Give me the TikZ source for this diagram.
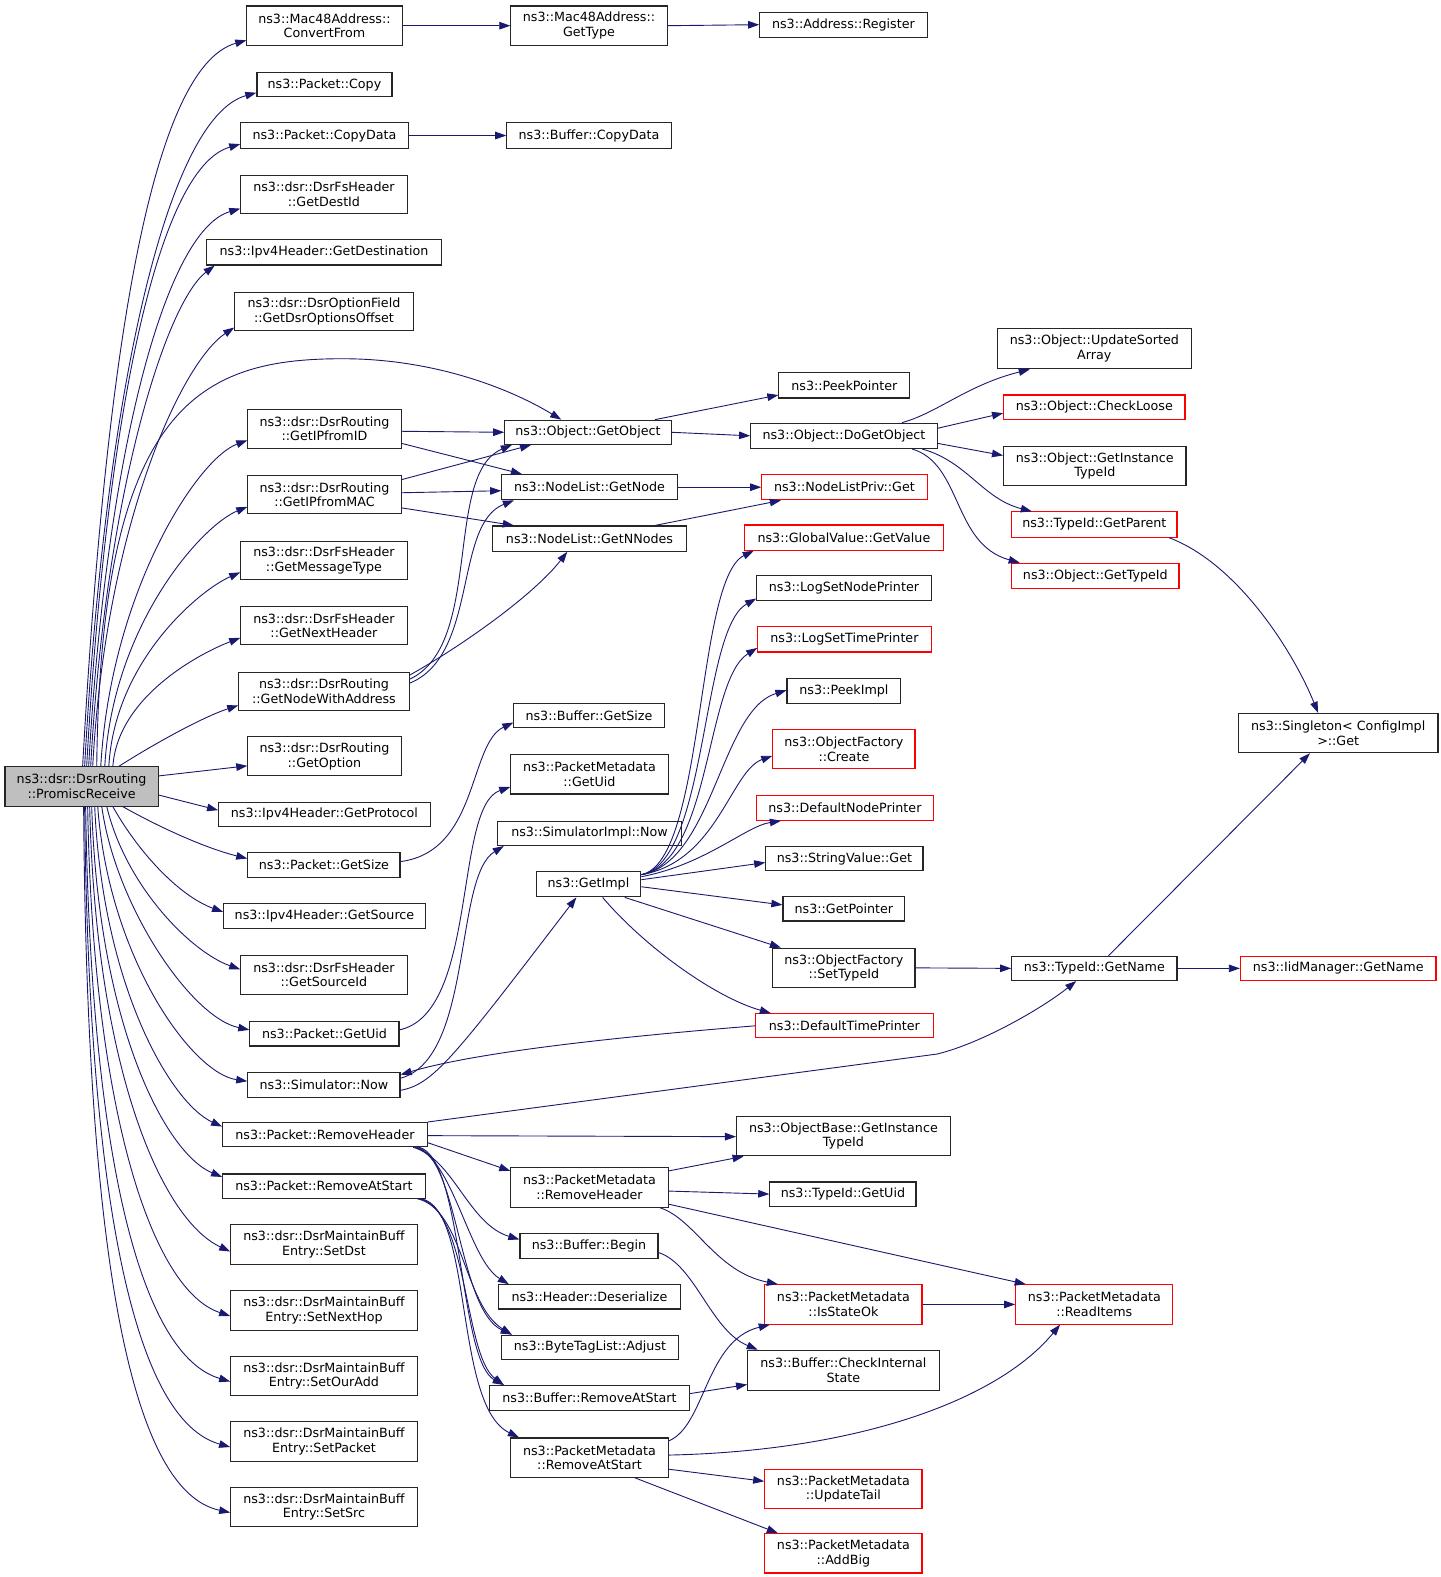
\documentclass[tikz,border=0pt]{standalone}
\usepackage{fontspec}
\setmainfont{DejaVu Sans}
\usetikzlibrary{arrows.meta}
\definecolor{eb}{HTML}{191970}
\newcommand\dxbox[7][]{%
  \pgfmathsetmacro\dxw{#4-#2}\pgfmathsetmacro\dxh{#5-#3}%
  \pgfmathsetmacro\dxx{(#2+#4)/2}\pgfmathsetmacro\dxy{(#3+#5)/2}%
  \node[box,#1,minimum width=\dxw pt,minimum height=\dxh pt] (#6) at (\dxx,\dxy) {#7};}
\begin{document}
\begin{tikzpicture}[x=1pt,y=-1pt,
  box/.style={draw=black!85,line width=1.1pt,fill=white,inner xsep=1pt,inner ysep=1pt,align=center,font=\fontsize{12.6}{14.5}\selectfont},
  rbox/.style={draw=red},
  mbox/.style={fill=black!25},
  edge/.style={draw=eb,line width=0.9pt,-{Triangle[length=11pt,width=7.5pt]}}]
\useasboundingbox (0,0) rectangle (1430,1565);
% column 1
\dxbox[mbox]{5}{761}{157}{800}{main}{ns3::dsr::DsrRouting\\::PromiscReceive}
% column 2
\dxbox{245}{6}{399}{45}{CF}{ns3::Mac48Address::\\ConvertFrom}
\dxbox{255}{72}{389}{96}{PCopy}{ns3::Packet::Copy}
\dxbox{239}{122}{405}{147}{PCD}{ns3::Packet::CopyData}
\dxbox{239}{174}{404}{212}{GDI}{ns3::dsr::DsrFsHeader\\::GetDestId}
\dxbox{205}{238}{438}{263}{GDest}{ns3::Ipv4Header::GetDestination}
\dxbox{233}{290}{410}{328}{GDOO}{ns3::dsr::DsrOptionField\\::GetDsrOptionsOffset}
\dxbox{246}{406}{398}{445}{GIPID}{ns3::dsr::DsrRouting\\::GetIPfromID}
\dxbox{246}{472}{398}{510}{GIPMAC}{ns3::dsr::DsrRouting\\::GetIPfromMAC}
\dxbox{239}{537}{404}{575}{GMT}{ns3::dsr::DsrFsHeader\\::GetMessageType}
\dxbox{239}{602}{404}{640}{GNH}{ns3::dsr::DsrFsHeader\\::GetNextHeader}
\dxbox{237}{667}{406}{705}{GNWA}{ns3::dsr::DsrRouting\\::GetNodeWithAddress}
\dxbox{246}{731}{398}{770}{GOpt}{ns3::dsr::DsrRouting\\::GetOption}
\dxbox{217}{796}{427}{820}{GProt}{ns3::Ipv4Header::GetProtocol}
\dxbox{246}{846}{397}{871}{PGS}{ns3::Packet::GetSize}
\dxbox{222}{897}{422}{921}{GSrc}{ns3::Ipv4Header::GetSource}
\dxbox{239}{948}{404}{987}{GSId}{ns3::dsr::DsrFsHeader\\::GetSourceId}
\dxbox{248}{1014}{396}{1038}{PGU}{ns3::Packet::GetUid}
\dxbox{246}{1064}{397}{1089}{SNow}{ns3::Simulator::Now}
\dxbox{221}{1114}{424}{1138}{PRH}{ns3::Packet::RemoveHeader}
\dxbox{221}{1165}{422}{1189}{PRAS}{ns3::Packet::RemoveAtStart}
\dxbox{229}{1215}{414}{1255}{SDst}{ns3::dsr::DsrMaintainBuff\\Entry::SetDst}
\dxbox{229}{1281}{414}{1320}{SNH}{ns3::dsr::DsrMaintainBuff\\Entry::SetNextHop}
\dxbox{229}{1346}{414}{1385}{SOA}{ns3::dsr::DsrMaintainBuff\\Entry::SetOurAdd}
\dxbox{229}{1411}{414}{1450}{SPk}{ns3::dsr::DsrMaintainBuff\\Entry::SetPacket}
\dxbox{229}{1476}{414}{1515}{SSrc}{ns3::dsr::DsrMaintainBuff\\Entry::SetSrc}
% column 3
\dxbox{507}{6}{662}{45}{MGT}{ns3::Mac48Address::\\GetType}
\dxbox{503}{122}{666}{147}{BCD}{ns3::Buffer::CopyData}
\dxbox{501}{417}{666}{441}{GObj}{ns3::Object::GetObject}
\dxbox{498}{471}{672}{496}{GNode}{ns3::NodeList::GetNode}
\dxbox{489}{522}{681}{547}{GNN}{ns3::NodeList::GetNNodes}
\dxbox{510}{698}{659}{722}{BGS}{ns3::Buffer::GetSize}
\dxbox{507}{749}{663}{788}{PMGU}{ns3::PacketMetadata\\::GetUid}
\dxbox{494}{815}{676}{839}{SIN}{ns3::SimulatorImpl::Now}
\dxbox{532}{865}{636}{890}{GImpl}{ns3::GetImpl}
\dxbox{507}{1159}{663}{1198}{PMRH}{ns3::PacketMetadata\\::RemoveHeader}
\dxbox{516}{1224}{653}{1249}{BB}{ns3::Buffer::Begin}
\dxbox{495}{1275}{675}{1299}{HD}{ns3::Header::Deserialize}
\dxbox{498}{1325}{673}{1349}{BTA}{ns3::ByteTagList::Adjust}
\dxbox{486}{1375}{684}{1400}{BRAS}{ns3::Buffer::RemoveAtStart}
\dxbox{507}{1427}{663}{1466}{PMRAS}{ns3::PacketMetadata\\::RemoveAtStart}
% column 4
\dxbox{754}{12}{920}{37}{AR}{ns3::Address::Register}
\dxbox{773}{370}{903}{395}{PP}{ns3::PeekPointer}
\dxbox{745}{420}{930}{445}{DGO}{ns3::Object::DoGetObject}
\dxbox[rbox]{756}{471}{920}{496}{NLPG}{ns3::NodeListPriv::Get}
\dxbox[rbox]{739}{521}{936}{546}{GVGV}{ns3::GlobalValue::GetValue}
\dxbox{751}{571}{924}{596}{LSNP}{ns3::LogSetNodePrinter}
\dxbox[rbox]{752}{622}{924}{647}{LSTP}{ns3::LogSetTimePrinter}
\dxbox{781}{673}{894}{698}{PI}{ns3::PeekImpl}
\dxbox[rbox]{767}{724}{908}{763}{OFC}{ns3::ObjectFactory\\::Create}
\dxbox[rbox]{751}{789}{926}{814}{DNP}{ns3::DefaultNodePrinter}
\dxbox{760}{840}{916}{864}{SVG}{ns3::StringValue::Get}
\dxbox{777}{890}{898}{914}{GP}{ns3::GetPointer}
\dxbox{767}{941}{908}{980}{OFST}{ns3::ObjectFactory\\::SetTypeId}
\dxbox[rbox]{750}{1006}{926}{1030}{DTP}{ns3::DefaultTimePrinter}
\dxbox{731}{1108}{943}{1147}{OBGIT}{ns3::ObjectBase::GetInstance\\TypeId}
\dxbox{764}{1173}{909}{1197}{TGU}{ns3::TypeId::GetUid}
\dxbox[rbox]{759}{1275}{915}{1314}{ISO}{ns3::PacketMetadata\\::IsStateOk}
\dxbox{742}{1340}{932}{1380}{BCIS}{ns3::Buffer::CheckInternal\\State}
\dxbox[rbox]{759}{1458}{915}{1497}{PMUT}{ns3::PacketMetadata\\::UpdateTail}
\dxbox[rbox]{759}{1522}{915}{1561}{PMAB}{ns3::PacketMetadata\\::AddBig}
% column 5
\dxbox{990}{326}{1182}{366}{OUSA}{ns3::Object::UpdateSorted\\Array}
\dxbox[rbox]{996}{392}{1176}{416}{OCL}{ns3::Object::CheckLoose}
\dxbox{996}{443}{1177}{482}{OGIT}{ns3::Object::GetInstance\\TypeId}
\dxbox[rbox]{1004}{508}{1168}{533}{TGP}{ns3::TypeId::GetParent}
\dxbox[rbox]{1004}{559}{1170}{584}{OGT}{ns3::Object::GetTypeId}
\dxbox{1004}{949}{1168}{973}{TGN}{ns3::TypeId::GetName}
\dxbox[rbox]{1008}{1275}{1164}{1314}{PMRI}{ns3::PacketMetadata\\::ReadItems}
% column 6
\dxbox{1229}{708}{1427}{747}{SCG}{ns3::Singleton< ConfigImpl\\ >::Get}
\dxbox[rbox]{1231}{949}{1425}{973}{IMGN}{ns3::IidManager::GetName}
% edges from main, upward
\draw[edge] (main.north -| 82,0) .. controls (104,364) and (148,67) .. (CF.west |- 0,40);
\draw[edge] (main.north -| 84,0) .. controls (104,393) and (165,117) .. (PCopy.west |- 0,92);
\draw[edge] (main.north -| 86,0) .. controls (105,421) and (155,167) .. (PCD.west |- 0,143);
\draw[edge] (main.north -| 88,0) .. controls (105,456) and (163,229) .. (GDI.west |- 0,207);
\draw[edge] (main.north -| 90,0) .. controls (105,487) and (165,300) .. (GDest.south -| 213,0);
\draw[edge] (main.north -| 92,0) .. controls (105,521) and (180,360) .. (GDOO.west |- 0,325);
\draw[edge] (main.north -| 96,0) .. controls (100,400) and (200,356) .. (340,356) .. controls (430,356) and (505,385) .. (GObj.north -| 557,0);
\draw[edge] (main.north -| 100,0) .. controls (110,587) and (196,455) .. (GIPID.west |- 0,437);
\draw[edge] (main.north -| 104,0) .. controls (112,619) and (201,521) .. (GIPMAC.west |- 0,503);
\draw[edge] (main.north -| 108,0) .. controls (114,655) and (199,585) .. (GMT.west |- 0,568);
\draw[edge] (main.north -| 112,0) .. controls (117,691) and (199,648) .. (GNH.west |- 0,633);
\draw[edge] (main.north -| 118,0) .. controls (150,740) and (200,712) .. (GNWA.west |- 0,700);
\draw[edge] (main.east |- 0,770) -- (GOpt.west |- 0,760);
\draw[edge] (main.east |- 0,789) -- (GProt.west |- 0,804);
% edges from main, downward
\draw[edge] (main.south -| 122,0) .. controls (160,822) and (205,842) .. (PGS.west |- 0,852);
\draw[edge] (main.south -| 112,0) .. controls (140,850) and (180,890) .. (GSrc.west |- 0,905);
\draw[edge] (main.south -| 106,0) .. controls (125,880) and (190,945) .. (GSId.west |- 0,962);
\draw[edge] (main.south -| 101,0) .. controls (115,900) and (190,1010) .. (PGU.west |- 0,1022);
\draw[edge] (main.south -| 97,0) .. controls (108,950) and (190,1065) .. (SNow.west |- 0,1073);
\draw[edge] (main.south -| 94,0) .. controls (102,980) and (170,1095) .. (PRH.west |- 0,1118);
\draw[edge] (main.south -| 91,0) .. controls (98,1020) and (165,1145) .. (PRAS.west |- 0,1168);
\draw[edge] (main.south -| 89,0) .. controls (95,1060) and (160,1210) .. (SDst.west |- 0,1242);
\draw[edge] (main.south -| 87,0) .. controls (92,1100) and (150,1280) .. (SNH.west |- 0,1306);
\draw[edge] (main.south -| 85,0) .. controls (90,1150) and (140,1345) .. (SOA.west |- 0,1371);
\draw[edge] (main.south -| 84,0) .. controls (88,1200) and (135,1410) .. (SPk.west |- 0,1436);
\draw[edge] (main.south -| 83,0) .. controls (86,1250) and (130,1480) .. (SSrc.west |- 0,1501);
% column 2 -> 3
\draw[edge] (CF.east) -- (MGT.west);
\draw[edge] (MGT.east) -- (AR.west);
\draw[edge] (PCD.east) -- (BCD.west);
\draw[edge] (GIPID.east |- 0,428) -- (GObj.west |- 0,429);
\draw[edge] (GIPID.east |- 0,440) -- (GNode.north -| 518,0);
\draw[edge] (GIPMAC.east |- 0,476) -- (GObj.south -| 527,0);
\draw[edge] (GIPMAC.east |- 0,489) -- (GNode.west |- 0,487);
\draw[edge] (GIPMAC.east |- 0,504) -- (GNN.north -| 510,0);
\draw[edge] (GNWA.east |- 0,674) .. controls (480,640) and (440,470) .. (GObj.south -| 508,0);
\draw[edge] (GNWA.east |- 0,678) .. controls (475,650) and (450,520) .. (GNode.south -| 510,0);
\draw[edge] (GNWA.east |- 0,670) .. controls (460,640) and (530,590) .. (GNN.south -| 563,0);
\draw[edge] (PGS.east |- 0,855) .. controls (475,845) and (465,738) .. (BGS.west |- 0,717);
\draw[edge] (PGU.east |- 0,1022) .. controls (475,1005) and (450,800) .. (PMGU.west |- 0,781);
\draw[edge] (SNow.east |- 0,1070) .. controls (470,1050) and (450,870) .. (SIN.south -| 500,0);
\draw[edge] (SNow.east |- 0,1082) .. controls (430,1076) and (450,1050) .. (GImpl.south -| 572,0);
\draw[edge] (DTP.west) .. controls (600,1030) and (470,1045) .. ([yshift=-3pt]SNow.north east);
\draw[edge] (PRH.north east) -- (930,1046) .. controls (975,1035) and (1035,1000) .. (TGN.south -| 1068,0);
\draw[edge] (PRH.east |- 0,1127) -- (OBGIT.west |- 0,1128);
\draw[edge] (PRH.east |- 0,1134) -- (PMRH.west |- 0,1162);
\draw[edge] (PRH.south -| 410,0) .. controls (450,1150) and (465,1215) .. (BB.west |- 0,1230);
\draw[edge] (PRH.south -| 412,0) .. controls (450,1150) and (465,1250) .. (HD.north -| 505,0);
\draw[edge] (PRH.south -| 414,0) .. controls (455,1150) and (455,1300) .. (BTA.north -| 508,0);
\draw[edge] (PRH.south -| 416,0) .. controls (460,1150) and (455,1350) .. (BRAS.north -| 500,0);
\draw[edge] (PRAS.south -| 414,0) .. controls (460,1200) and (460,1295) .. (BTA.north -| 508,0);
\draw[edge] (PRAS.south -| 416,0) .. controls (465,1200) and (460,1345) .. (BRAS.north -| 500,0);
\draw[edge] (PRAS.south -| 418,0) .. controls (470,1200) and (450,1395) .. (PMRAS.north -| 515,0);
% column 3 -> 4
\draw[edge] (GObj.north -| 650,0) -- (PP.west |- 0,392);
\draw[edge] (GObj.east) -- (DGO.west);
\draw[edge] (GNode.east) -- (NLPG.west);
\draw[edge] (GNN.north -| 650,0) -- (NLPG.south -| 775,0);
\draw[edge] (GImpl.east |- 0,868) .. controls (700,855) and (690,575) .. (GVGV.south -| 748,0);
\draw[edge] (GImpl.east |- 0,868) .. controls (703,855) and (695,625) .. (LSNP.west |- 0,594);
\draw[edge] (GImpl.east |- 0,868) .. controls (706,855) and (700,675) .. (LSTP.west |- 0,643);
\draw[edge] (GImpl.east |- 0,868) .. controls (708,855) and (715,705) .. (PI.west |- 0,685);
\draw[edge] (GImpl.east |- 0,868) .. controls (712,855) and (725,765) .. (OFC.west |- 0,750);
\draw[edge] (GImpl.east |- 0,870) .. controls (700,858) and (740,820) .. (DNP.south -| 775,0);
\draw[edge] (GImpl.east |- 0,873) -- (SVG.west |- 0,856);
\draw[edge] (GImpl.east |- 0,880) -- (GP.west |- 0,898);
\draw[edge] (GImpl.south -| 620,0) -- (OFST.north -| 775,0);
\draw[edge] (GImpl.south -| 598,0) .. controls (640,940) and (710,990) .. (DTP.north -| 765,0);
\draw[edge] (PMRH.east |- 0,1162) -- (OBGIT.south -| 738,0);
\draw[edge] (PMRH.east |- 0,1182) -- (TGU.west);
\draw[edge] (PMRH.south -| 655,0) .. controls (690,1210) and (710,1262) .. (ISO.north -| 772,0);
\draw[edge] (PMRH.east |- 0,1195) -- (PMRI.north -| 1018,0);
\draw[edge] (BB.east |- 0,1243) .. controls (690,1255) and (705,1320) .. (BCIS.north -| 752,0);
\draw[edge] (BRAS.east |- 0,1383) -- (BCIS.west |- 0,1374);
\draw[edge] (PMRAS.east |- 0,1430) .. controls (700,1415) and (700,1330) .. (ISO.south -| 764,0);
\draw[edge] (PMRAS.east |- 0,1444) .. controls (850,1440) and (990,1390) .. (PMRI.south -| 1052,0);
\draw[edge] (PMRAS.east |- 0,1458) -- (PMUT.west |- 0,1470);
\draw[edge] (PMRAS.south -| 630,0) -- (PMAB.north -| 772,0);
% column 4 -> 5
\draw[edge] (DGO.north -| 895,0) .. controls (930,410) and (960,382) .. (OUSA.south -| 1022,0);
\draw[edge] (DGO.east |- 0,425) -- (OCL.west |- 0,410);
\draw[edge] (DGO.east |- 0,440) -- (OGIT.west |- 0,452);
\draw[edge] (DGO.south -| 915,0) .. controls (960,458) and (975,495) .. (TGP.north -| 1024,0);
\draw[edge] (DGO.south -| 905,0) .. controls (955,460) and (945,540) .. (OGT.north -| 1012,0);
\draw[edge] (ISO.east) -- (PMRI.west);
\draw[edge] (OFST.east) -- (TGN.west);
% column 5 -> 6
\draw[edge] (TGP.south -| 1160,0) .. controls (1230,560) and (1285,650) .. (SCG.north -| 1308,0);
\draw[edge] (TGN.north -| 1100,0) -- (SCG.south -| 1300,0);
\draw[edge] (TGN.east) -- (IMGN.west);
\end{tikzpicture}
\end{document}
